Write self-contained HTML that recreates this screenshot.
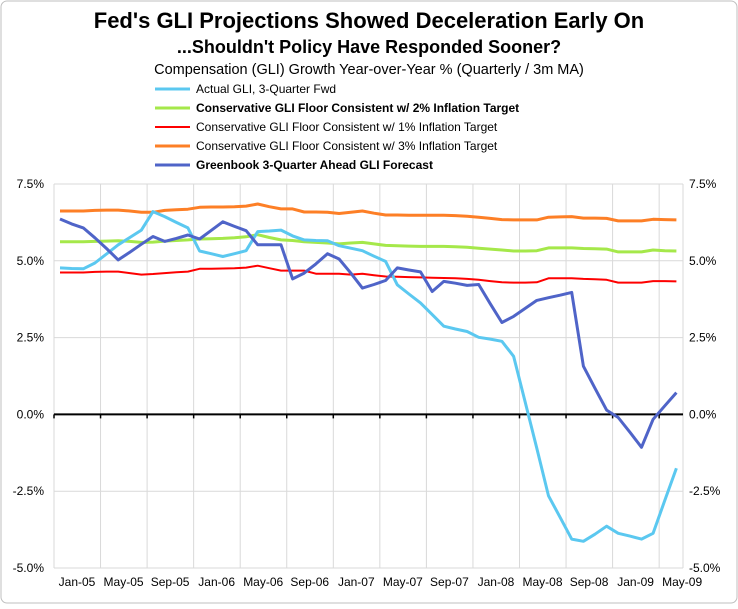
<!DOCTYPE html>
<html><head><meta charset="utf-8"><style>
body{margin:0;background:#fff}
svg text{font-family:"Liberation Sans",sans-serif}
</style></head><body>
<svg id="chart" width="738" height="604" viewBox="0 0 738 604">
<rect x="1" y="1" width="736" height="602" rx="6" fill="#fff" stroke="#bfbfbf"/>
<text x="369" y="28" text-anchor="middle" font-size="22" font-weight="bold">Fed's GLI Projections Showed Deceleration Early On</text>
<text x="369" y="53" text-anchor="middle" font-size="18" font-weight="bold">...Shouldn't Policy Have Responded Sooner?</text>
<text x="369" y="74" text-anchor="middle" font-size="14.5">Compensation (GLI) Growth Year-over-Year % (Quarterly / 3m MA)</text>
<g id="legend"></g>
<g id="grid"></g>
<g id="axes"></g>
<g id="series"></g>
</svg>
<script>
const months=['Jan-05','May-05','Sep-05','Jan-06','May-06','Sep-06','Jan-07','May-07','Sep-07','Jan-08','May-08','Sep-08','Jan-09','May-09'];
const yTicks=[7.5,5.0,2.5,0.0,-2.5,-5.0];
const yTickLabels=['7.5%','5.0%','2.5%','0.0%','-2.5%','-5.0%'];
const seriesNames=['Actual GLI, 3-Quarter Fwd','Conservative GLI Floor Consistent w/ 2% Inflation Target','Conservative GLI Floor Consistent w/ 1% Inflation Target','Conservative GLI Floor Consistent w/ 3% Inflation Target','Greenbook 3-Quarter Ahead GLI Forecast'];
const actualGLI=[4.77,4.75,4.74,4.93,5.22,5.52,5.76,6.0,6.6,6.44,6.25,6.07,5.32,5.23,5.14,5.23,5.33,5.95,5.97,6.0,5.81,5.68,5.66,5.65,5.49,5.41,5.33,5.15,4.98,4.22,3.92,3.63,3.25,2.87,2.78,2.7,2.51,2.45,2.38,1.89,0.4,-1.1,-2.65,-3.35,-4.06,-4.13,-3.9,-3.64,-3.87,-3.96,-4.06,-3.87,-2.8,-1.75];
const floor2=[5.62,5.62,5.62,5.63,5.64,5.65,5.63,5.6,5.61,5.64,5.66,5.68,5.71,5.72,5.73,5.75,5.78,5.85,5.76,5.68,5.66,5.62,5.6,5.58,5.55,5.58,5.6,5.55,5.5,5.49,5.48,5.47,5.47,5.47,5.46,5.44,5.41,5.38,5.35,5.32,5.32,5.33,5.42,5.42,5.42,5.4,5.39,5.38,5.29,5.29,5.29,5.35,5.33,5.32];
const floor1=[4.62,4.62,4.62,4.64,4.65,4.65,4.6,4.55,4.57,4.6,4.63,4.65,4.74,4.74,4.75,4.76,4.78,4.84,4.76,4.68,4.68,4.68,4.58,4.58,4.58,4.55,4.58,4.53,4.49,4.48,4.47,4.46,4.45,4.44,4.43,4.41,4.38,4.34,4.3,4.29,4.29,4.3,4.43,4.43,4.43,4.41,4.4,4.38,4.29,4.29,4.29,4.34,4.34,4.33];
const floor3=[6.62,6.62,6.62,6.64,6.65,6.65,6.62,6.58,6.58,6.64,6.66,6.68,6.74,6.75,6.75,6.76,6.78,6.85,6.76,6.69,6.69,6.59,6.59,6.58,6.54,6.58,6.62,6.55,6.49,6.49,6.48,6.48,6.48,6.48,6.47,6.45,6.42,6.38,6.34,6.33,6.33,6.33,6.42,6.43,6.44,6.39,6.39,6.38,6.3,6.3,6.3,6.35,6.34,6.33];
const greenbook=[6.36,6.2,6.07,5.75,5.4,5.03,5.28,5.54,5.79,5.63,5.73,5.84,5.71,5.99,6.27,6.12,5.98,5.52,5.52,5.52,4.41,4.6,4.9,5.23,5.06,4.6,4.11,4.23,4.36,4.77,4.7,4.64,4.0,4.33,4.27,4.2,4.23,3.6,2.99,3.19,3.45,3.71,3.8,3.88,3.97,1.57,0.85,0.14,-0.1,-0.58,-1.07,-0.16,0.28,0.71];

const NS='http://www.w3.org/2000/svg';
function mk(tag,attrs,parent){const e=document.createElementNS(NS,tag);for(const k in attrs)e.setAttribute(k,attrs[k]);parent.appendChild(e);return e;}
const L=54,R=683,T=184,B=568,X0=60,DX=11.63;
const yMin=-5,yMax=7.5;
function yS(v){return B-(v-yMin)/(yMax-yMin)*(B-T);}
function xS(i){return X0+DX*i;}
const grid=document.getElementById('grid'),axes=document.getElementById('axes'),ser=document.getElementById('series'),leg=document.getElementById('legend');
const step=46.55;
for(let k=0;k<=months.length;k++){const x=L+step*k;if(x>R+1)break;
 const g=mk('line',{x1:x,x2:x,y1:T,y2:B,stroke:'#d9d9d9','stroke-width':1},grid);
 
 
 const t=mk('line',{x1:x,x2:x,y1:yS(0),y2:yS(0)+4,stroke:'#000','stroke-width':1.5},axes);
 
 }
mk('line',{x1:R,x2:R,y1:T,y2:B,stroke:'#d9d9d9'},grid);
yTicks.forEach((v,j)=>{const y=yS(v);
 if(v!==0){const g=mk('line',{x1:L,x2:R,y1:y,y2:y,stroke:'#d9d9d9','stroke-width':1},grid);
 
 }
 const a=mk('text',{x:44,y:y+4,'text-anchor':'end','font-size':12},axes);a.textContent=yTickLabels[j];
 
 
 const b=mk('text',{x:689,y:y+4,'text-anchor':'start','font-size':12},axes);b.textContent=yTickLabels[j];
 
 });
const z=mk('line',{x1:L,x2:R,y1:yS(0),y2:yS(0),stroke:'#000','stroke-width':2},axes);


months.forEach((m,k)=>{const t=mk('text',{x:L+step*k+23,y:586,'text-anchor':'middle','font-size':12},axes);t.textContent=m;
 
 });
const defs=[[floor3,'#fd7f26',3,'floor-3pct-line'],[floor2,'#a5e84a',3,'floor-2pct-line'],[floor1,'#fe0000',2,'floor-1pct-line'],[actualGLI,'#5bc8f0',3,'actual-gli-line'],[greenbook,'#4f64c8',3,'greenbook-forecast-line']];
defs.forEach(d=>{const p=d[0].map((v,i)=>xS(i).toFixed(1)+','+yS(v).toFixed(1)).join(' ');
 const l=mk('polyline',{points:p,fill:'none',stroke:d[1],'stroke-width':d[2],'stroke-linejoin':'round'},ser);
 
 });
const legCols=['#5bc8f0','#a5e84a','#fe0000','#fd7f26','#4f64c8'];
const legBold=[false,true,false,false,true];
const legW=[3,3,2,3,3];
seriesNames.forEach((n,i)=>{const y=89+19*i;
 const g=mk('g',{},leg);
 
 
 mk('line',{x1:155,x2:190,y1:y,y2:y,stroke:legCols[i],'stroke-width':legW[i]},g);
 const t=mk('text',{x:196,y:y+4,'font-size':12,'font-weight':legBold[i]?'bold':'normal'},g);t.textContent=n;});
</script>
</body></html>
